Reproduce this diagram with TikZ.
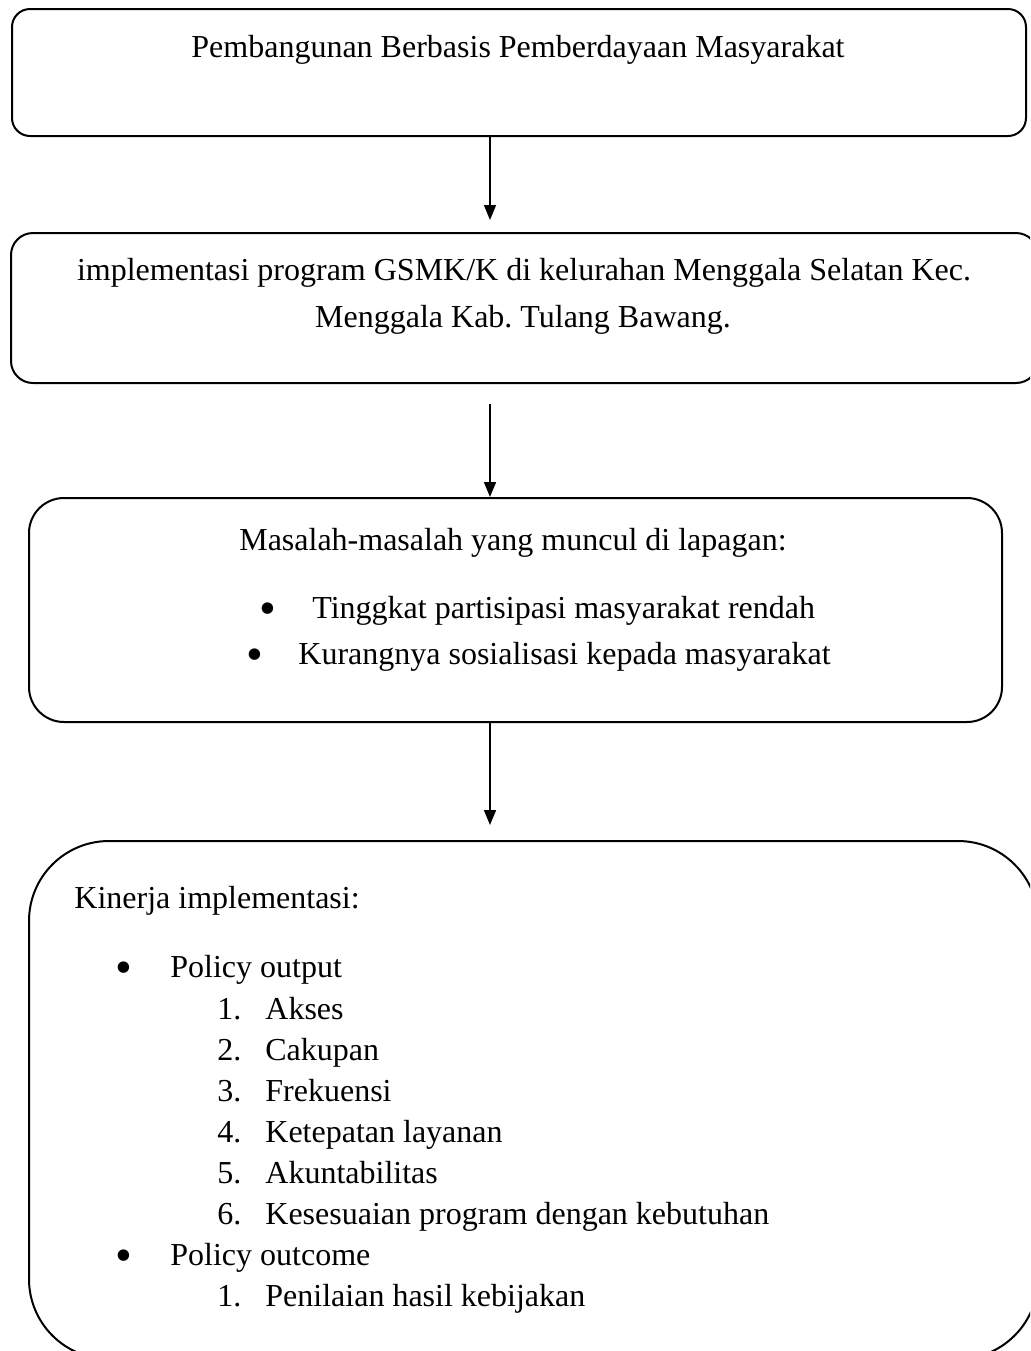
\documentclass[tikz,border=0pt]{standalone}
\usepackage{fontspec}
\setmainfont{Liberation Serif}
\usetikzlibrary{arrows.meta}
\frenchspacing
\begin{document}
\begin{tikzpicture}[x=0.5pt,y=-0.5pt,
  box/.style={draw=black,line width=1pt,fill=white,inner sep=0pt,anchor=north west},
  txt/.style={inner sep=0pt,font=\fontsize{16pt}{20pt}\selectfont},
  bul/.style={inner sep=0pt,anchor=center,font=\fontsize{24pt}{24pt}\selectfont},
  arr/.style={line width=0.8pt,-{Triangle[length=7.5pt,width=6pt]}}]
\useasboundingbox (0,0) rectangle (1030,1351);
\clip (0,0) rectangle (1030,1351);
\fill[white] (0,0) rectangle (1030,1351);
% boxes
\node[box,rounded corners=9pt,minimum width=507pt,minimum height=63.5pt] (b1) at (11,8) {};
\node[box,rounded corners=11pt,minimum width=513.5pt,minimum height=75pt] (b2) at (10,232) {};
\node[box,rounded corners=17.5pt,minimum width=486.5pt,minimum height=112pt] (b3) at (28,497) {};
\node[box,rounded corners=40pt,minimum width=504.5pt,minimum height=259pt] (b4) at (28,840) {};
\coordinate (ax) at (490,0);
% arrows
\draw[arr,shorten >=6pt] (b1.south -| ax) -- (b2.north -| ax);
\draw[arr,shorten <=10pt] (b2.south -| ax) -- (b3.north -| ax);
\draw[arr,shorten >=7.5pt] (b3.south -| ax) -- (b4.north -| ax);
% box 1 text
\node[txt,anchor=base] (t1) at (518,57) {Pembangunan Berbasis Pemberdayaan Masyarakat};
% box 2 text
\node[txt,anchor=base] (t2a) at (524,280) {implementasi program GSMK/K di kelurahan Menggala Selatan Kec.};
\node[txt,anchor=base] (t2b) at (523,327) {Menggala Kab. Tulang Bawang.};
% box 3 text
\node[txt,anchor=base] (t3) at (513,550) {Masalah-masalah yang muncul di lapagan:};
\node[bul] (t3b1) at (268,614) {\textbullet};
\node[txt,anchor=base west] (t3a) at (312,618) {Tinggkat partisipasi masyarakat rendah};
\node[bul] (t3b2) at (255,660) {\textbullet};
\node[txt,anchor=base west] (t3c) at (298,664) {Kurangnya sosialisasi kepada masyarakat};
% box 4 text
\node[txt,anchor=base west] (t4) at (74,908) {Kinerja implementasi:};
\node[bul] (p1b) at (124,973) {\textbullet};
\node[txt,anchor=base west] (p1) at (170,977) {Policy output};
\node[txt,anchor=base west] (n1) at (217,1019) {1.};
\node[txt,anchor=base west] (i1) at (265,1019) {Akses};
\node[txt,anchor=base west] (n2) at (217,1060) {2.};
\node[txt,anchor=base west] (i2) at (265,1060) {Cakupan};
\node[txt,anchor=base west] (n3) at (217,1101) {3.};
\node[txt,anchor=base west] (i3) at (265,1101) {Frekuensi};
\node[txt,anchor=base west] (n4) at (217,1142) {4.};
\node[txt,anchor=base west] (i4) at (265,1142) {Ketepatan layanan};
\node[txt,anchor=base west] (n5) at (217,1183) {5.};
\node[txt,anchor=base west] (i5) at (265,1183) {Akuntabilitas};
\node[txt,anchor=base west] (n6) at (217,1224) {6.};
\node[txt,anchor=base west] (i6) at (265,1224) {Kesesuaian program dengan kebutuhan};
\node[bul] (p2b) at (124,1261) {\textbullet};
\node[txt,anchor=base west] (p2) at (170,1265) {Policy outcome};
\node[txt,anchor=base west] (m1) at (217,1306) {1.};
\node[txt,anchor=base west] (j1) at (265,1306) {Penilaian hasil kebijakan};
\end{tikzpicture}
\end{document}
